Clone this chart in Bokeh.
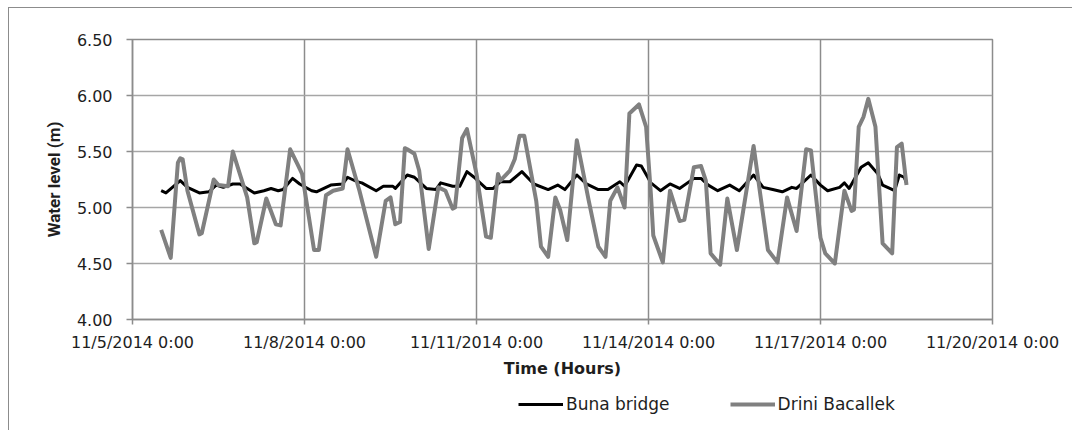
from bokeh.plotting import figure
from bokeh.layouts import column
from bokeh.models import Range1d, FixedTicker, Legend, LegendItem, NumeralTickFormatter
from bokeh.embed import file_html
from bokeh.resources import INLINE

# ---- data (hours since 11/5/2014 0:00) ----
tick_hours = [0, 72, 144, 216, 288, 360]
tick_labels = ["11/5/2014 0:00", "11/8/2014 0:00", "11/11/2014 0:00",
               "11/14/2014 0:00", "11/17/2014 0:00", "11/20/2014 0:00"]
y_ticks = [4.0, 4.5, 5.0, 5.5, 6.0, 6.5]

buna_hours = [12, 14, 20, 23, 28, 32, 35, 38, 42, 45, 51, 55, 58, 61, 63, 67, 70, 75, 77, 83,
              88, 90, 94, 96, 102, 105, 109, 110, 115, 118, 123, 127, 129, 134, 137, 140, 143,
              148, 151, 154, 158, 163, 168, 174, 178, 181, 186, 190, 195, 199, 204, 206, 211,
              213, 217, 221, 225, 229, 235, 238, 241, 245, 250, 254, 260, 264, 268, 272, 276,
              278, 284, 288, 291, 296, 298, 300, 305, 308, 312, 314, 317, 319, 321, 323, 324]
buna_level = [5.15, 5.13, 5.24, 5.18, 5.13, 5.14, 5.20, 5.18, 5.21, 5.21, 5.13, 5.15, 5.17,
              5.15, 5.16, 5.26, 5.21, 5.15, 5.14, 5.20, 5.21, 5.27, 5.23, 5.22, 5.15, 5.19,
              5.19, 5.17, 5.29, 5.27, 5.17, 5.16, 5.22, 5.19, 5.19, 5.32, 5.27, 5.17, 5.17,
              5.23, 5.23, 5.32, 5.21, 5.16, 5.20, 5.16, 5.29, 5.21, 5.16, 5.16, 5.23, 5.19,
              5.38, 5.37, 5.22, 5.15, 5.21, 5.17, 5.26, 5.26, 5.20, 5.15, 5.20, 5.15, 5.29,
              5.18, 5.16, 5.14, 5.18, 5.17, 5.29, 5.20, 5.15, 5.18, 5.22, 5.17, 5.36, 5.40,
              5.30, 5.20, 5.17, 5.15, 5.29, 5.27, 5.22]

drini_hours = [12, 16, 19, 20, 21, 23, 28, 29, 34, 36, 40, 42, 48, 51, 52, 56, 60, 62, 66, 69,
               71, 76, 78, 81, 84, 88, 90, 95, 102, 106, 108, 110, 112, 114, 115, 118, 120, 124,
               128, 131, 134, 135, 138, 140, 144, 148, 150, 153, 154, 158, 160, 162, 164, 169,
               171, 174, 177, 179, 182, 186, 191, 195, 198, 200, 203, 206, 208, 210, 212, 215,
               217, 218, 222, 225, 229, 231, 235, 238, 240, 242, 246, 249, 253, 260, 266, 270,
               274, 278, 282, 284, 288, 290, 294, 298, 301, 302, 304, 306, 308, 311, 314, 318,
               320, 322, 324]
drini_level = [4.80, 4.55, 5.40, 5.44, 5.43, 5.15, 4.76, 4.77, 5.25, 5.20, 5.19, 5.50, 5.09,
               4.68, 4.69, 5.08, 4.85, 4.84, 5.52, 5.39, 5.30, 4.62, 4.62, 5.11, 5.15, 5.17,
               5.52, 5.15, 4.56, 5.06, 5.09, 4.85, 4.87, 5.53, 5.52, 5.48, 5.33, 4.63, 5.18,
               5.15, 4.99, 5.00, 5.62, 5.70, 5.30, 4.74, 4.73, 5.30, 5.24, 5.33, 5.43, 5.64,
               5.64, 5.06, 4.65, 4.56, 5.09, 4.98, 4.71, 5.60, 5.06, 4.65, 4.56, 5.06, 5.18,
               5.00, 5.84, 5.88, 5.92, 5.72, 5.12, 4.75, 4.51, 5.15, 4.88, 4.89, 5.36, 5.37,
               5.24, 4.59, 4.49, 5.08, 4.62, 5.55, 4.62, 4.51, 5.09, 4.79, 5.52, 5.51, 4.73,
               4.59, 4.50, 5.15, 4.97, 4.98, 5.72, 5.81, 5.97, 5.72, 4.68, 4.59, 5.54, 5.57,
               5.20]

GRID_V = "#8c8c8c"
GRID_H = "#a6a6a6"
TXT = "#1e1e1e"
FONT = "DejaVu Sans"

# ---- main chart ----
p = figure(width=1063, height=372, output_backend="svg", toolbar_location=None,
           x_range=Range1d(0, 360), y_range=Range1d(4.0, 6.5),
           min_border_left=123, min_border_right=80, min_border_top=31, min_border_bottom=61)
p.background_fill_color = "white"
p.border_fill_color = "white"
p.outline_line_color = GRID_V
p.outline_line_width = 1.5

p.xaxis.ticker = FixedTicker(ticks=tick_hours)
p.xaxis.major_label_overrides = {h: lab for h, lab in zip(tick_hours, tick_labels)}
p.yaxis.ticker = FixedTicker(ticks=y_ticks)
p.yaxis.formatter = NumeralTickFormatter(format="0.00")
for ax in (p.xaxis, p.yaxis):
    ax.axis_line_color = GRID_V
    ax.axis_line_width = 1.5
    ax.major_tick_line_color = GRID_V
    ax.major_tick_line_width = 1.5
    ax.major_tick_in = 0
    ax.minor_tick_line_color = None
    ax.major_label_text_font = FONT
    ax.major_label_text_font_size = "16px"
    ax.major_label_text_color = TXT
p.xaxis.major_tick_out = 5
p.xaxis.major_label_standoff = 8
p.yaxis.major_tick_out = 6
p.yaxis.major_label_standoff = 14

p.xaxis.axis_label = "Time (Hours)"
p.xaxis.axis_label_text_font = FONT
p.xaxis.axis_label_text_font_style = "bold"
p.xaxis.axis_label_text_font_size = "16px"
p.xaxis.axis_label_text_color = TXT
p.xaxis.axis_label_standoff = 4

p.yaxis.axis_label = "Water level (m)"
p.yaxis.axis_label_text_font = "Liberation Sans Narrow, Roboto"
p.yaxis.axis_label_text_font_style = "bold"
p.yaxis.axis_label_text_font_size = "17px"
p.yaxis.axis_label_text_color = TXT
p.yaxis.axis_label_standoff = 10

p.xgrid.ticker = FixedTicker(ticks=tick_hours)
p.xgrid.grid_line_color = GRID_V
p.xgrid.grid_line_width = 1.5
p.ygrid.ticker = FixedTicker(ticks=y_ticks)
p.ygrid.grid_line_color = GRID_H
p.ygrid.grid_line_width = 1.5

p.line(buna_hours, buna_level, line_color="black", line_width=3, line_join="round")
p.line(drini_hours, drini_level, line_color="#808080", line_width=4, line_join="round")

# ---- legend strip under the chart ----
lg = figure(width=1063, height=50, output_backend="svg", toolbar_location=None,
            x_range=Range1d(-1000, -999), y_range=Range1d(0, 1),
            x_axis_location=None, y_axis_location=None,
            min_border_left=0, min_border_right=0, min_border_top=0, min_border_bottom=0)
lg.grid.visible = False
lg.outline_line_color = None
lg.background_fill_color = "white"
lg.border_fill_color = "white"
lr_buna = lg.line(buna_hours, buna_level, line_color="black", line_width=3)
lr_drini = lg.line(drini_hours, drini_level, line_color="#808080", line_width=4)

legend = Legend(items=[LegendItem(label="Buna bridge", renderers=[lr_buna]),
                       LegendItem(label="Drini Bacallek", renderers=[lr_drini])],
                orientation="horizontal", location=(386, 16),
                glyph_width=45, glyph_height=20, label_standoff=3, spacing=60,
                padding=0, margin=0, border_line_color=None, background_fill_alpha=0,
                label_text_font=FONT, label_text_font_size="17px", label_text_color=TXT)
lg.add_layout(legend, "center")

layout = column(p, lg, spacing=0)
layout.styles = {"margin": "7px 0 0 8px", "border-left": "1px solid #8c8c8c",
                 "border-top": "1px solid #8c8c8c"}

open("out.html", "w").write(file_html(layout, INLINE))
